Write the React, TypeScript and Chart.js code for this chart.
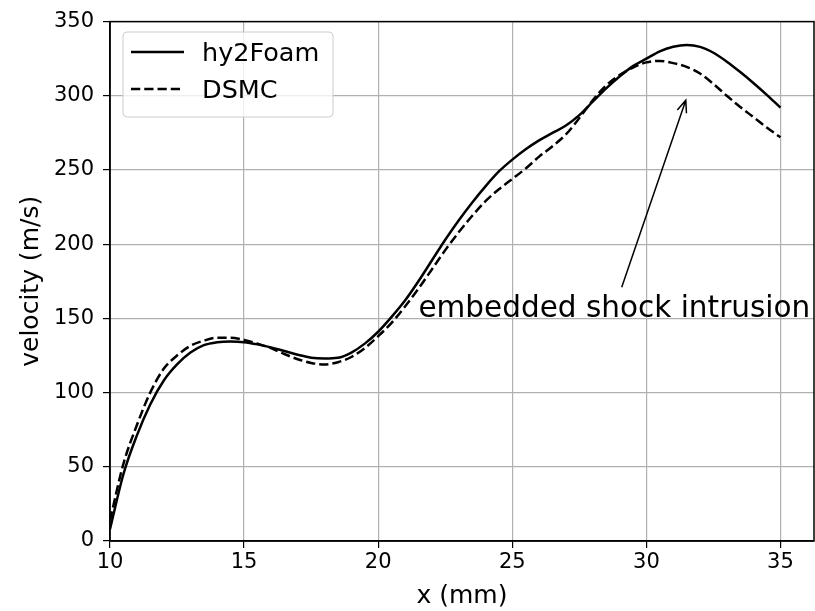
import React, { useEffect, useRef } from "react";
import { Chart, registerables } from "chart.js";

Chart.register(...registerables);

// ---- data ----
const X_MM = [
  10, 10.5, 11, 11.5, 12, 12.5, 13, 13.5, 14, 14.5, 15, 15.5, 16, 16.5, 17, 17.5, 18, 18.5, 19, 19.5,
  20, 20.5, 21, 21.5, 22, 22.5, 23, 23.5, 24, 24.5, 25, 25.5, 26, 26.5, 27, 27.5, 28, 28.5, 29, 29.5,
  30, 30.5, 31, 31.5, 32, 32.5, 33, 33.5, 34, 34.5, 35,
];
const HY2FOAM = [
  8, 45, 71, 92, 108, 119, 127, 132, 134, 134.5, 134, 132.5, 130.5, 128, 125.5, 123.5, 123, 123.5, 127, 133,
  141, 151, 162, 175, 189, 203, 216, 228, 239, 249, 257, 264, 270, 275, 280, 287, 296, 305, 313, 320,
  325, 330, 333, 334.2, 333, 329, 323, 316, 308.5, 300.5, 292,
];
const DSMC = [
  14, 52, 78, 100, 116, 125, 131.5, 135, 137, 137, 135.5, 133, 130, 126, 122.5, 120, 119, 120.5, 124, 130,
  138, 147, 158, 170, 183, 196, 208, 219, 229, 237, 244, 251, 259, 266, 274, 285, 297, 307, 314, 319,
  322.5, 323.5, 322, 319.5, 315, 308, 300, 292.5, 285.5, 278.5, 272,
];
const SERIES_LABELS = ["hy2Foam", "DSMC"];
const X_TICKS = [10, 15, 20, 25, 30, 35];
const Y_TICKS = [0, 50, 100, 150, 200, 250, 300, 350];
const X_TITLE = "x (mm)";
const Y_TITLE = "velocity (m/s)";
const ANNOTATION_TEXT = "embedded shock intrusion";
const ANN_TEXT_AT = [21.5, 151];
const ANN_ARROW_FROM = [29.08, 171];
const ANN_ARROW_TO = [31.47, 297];

const FONT = '"DejaVu Sans", sans-serif';
const DASH = [9.25, 4];

const overlayPlugin = {
  id: "overlay",
  afterDatasetsDraw(chart: any) {
    const { ctx, chartArea: a, scales } = chart;
    const xs = scales.x;
    const ys = scales.y;
    ctx.save();
    // frame
    ctx.strokeStyle = "#000";
    ctx.lineWidth = 1.5;
    ctx.setLineDash([]);
    ctx.strokeRect(a.left, a.top, a.right - a.left, a.bottom - a.top);

    // annotation text
    ctx.font = `29.5px ${FONT}`;
    ctx.fillStyle = "#000";
    ctx.textAlign = "left";
    ctx.textBaseline = "alphabetic";
    ctx.fillText(ANNOTATION_TEXT, xs.getPixelForValue(ANN_TEXT_AT[0]), ys.getPixelForValue(ANN_TEXT_AT[1]));

    // arrow
    const x0 = xs.getPixelForValue(ANN_ARROW_FROM[0]);
    const y0 = ys.getPixelForValue(ANN_ARROW_FROM[1]);
    const x1 = xs.getPixelForValue(ANN_ARROW_TO[0]);
    const y1 = ys.getPixelForValue(ANN_ARROW_TO[1]);
    ctx.lineWidth = 1.5;
    ctx.beginPath();
    ctx.moveTo(x0, y0);
    ctx.lineTo(x1, y1);
    const ang = Math.atan2(y1 - y0, x1 - x0);
    const hl = 13;
    const hw = 0.38;
    ctx.moveTo(x1 - hl * Math.cos(ang - hw), y1 - hl * Math.sin(ang - hw));
    ctx.lineTo(x1, y1);
    ctx.lineTo(x1 - hl * Math.cos(ang + hw), y1 - hl * Math.sin(ang + hw));
    ctx.stroke();

    // legend
    const lx = 123, ly = 32, lw = 210, lh = 85, r = 4;
    ctx.beginPath();
    ctx.moveTo(lx + r, ly);
    ctx.lineTo(lx + lw - r, ly);
    ctx.quadraticCurveTo(lx + lw, ly, lx + lw, ly + r);
    ctx.lineTo(lx + lw, ly + lh - r);
    ctx.quadraticCurveTo(lx + lw, ly + lh, lx + lw - r, ly + lh);
    ctx.lineTo(lx + r, ly + lh);
    ctx.quadraticCurveTo(lx, ly + lh, lx, ly + lh - r);
    ctx.lineTo(lx, ly + r);
    ctx.quadraticCurveTo(lx, ly, lx + r, ly);
    ctx.closePath();
    ctx.fillStyle = "rgba(255,255,255,0.8)";
    ctx.fill();
    ctx.strokeStyle = "#cccccc";
    ctx.lineWidth = 1;
    ctx.stroke();

    const rows = [
      { y: 52, dash: [] as number[] },
      { y: 89, dash: DASH },
    ];
    ctx.font = `25.5px ${FONT}`;
    ctx.textBaseline = "middle";
    ctx.fillStyle = "#000";
    rows.forEach((row, i) => {
      ctx.strokeStyle = "#000";
      ctx.lineWidth = 2.5;
      ctx.setLineDash(row.dash);
      ctx.beginPath();
      ctx.moveTo(131, row.y);
      ctx.lineTo(184, row.y);
      ctx.stroke();
      ctx.setLineDash([]);
      ctx.fillText(chart.data.datasets[i].label, 202, row.y + 2);
    });
    ctx.restore();
  },
};

export default function App() {
  const ref = useRef<HTMLCanvasElement | null>(null);
  useEffect(() => {
    if (!ref.current) return;
    const chart = new Chart(ref.current, {
      type: "line",
      data: {
        datasets: [
          {
            label: SERIES_LABELS[0],
            data: X_MM.map((x, i) => ({ x, y: HY2FOAM[i] })),
            borderColor: "#000",
            borderWidth: 2.5,
            pointRadius: 0,
            fill: false,
            cubicInterpolationMode: "monotone",
          },
          {
            label: SERIES_LABELS[1],
            data: X_MM.map((x, i) => ({ x, y: DSMC[i] })),
            borderColor: "#000",
            borderWidth: 2.5,
            borderDash: DASH,
            pointRadius: 0,
            fill: false,
            cubicInterpolationMode: "monotone",
          },
        ],
      },
      options: {
        animation: false,
        responsive: false,
        devicePixelRatio: 1,
        layout: { padding: { left: 0, top: 19, right: 1, bottom: 0 } },
        plugins: { legend: { display: false }, tooltip: { enabled: false } },
        scales: {
          x: {
            type: "linear",
            min: 10,
            max: 36.25,
            afterBuildTicks: (s: any) => {
              s.ticks = X_TICKS.map((v) => ({ value: v }));
            },
            afterFit: (s: any) => {
              s.height = 70;
            },
            ticks: { color: "#000", font: { family: FONT, size: 21 }, padding: 2, maxRotation: 0, autoSkip: false },
            grid: { color: "#b0b0b0", lineWidth: 1.2, tickColor: "#000", tickLength: 7, tickWidth: 1.2 },
            border: { display: true, color: "#000", width: 1.5 },
            title: { display: true, text: X_TITLE, color: "#000", font: { family: FONT, size: 25 }, padding: { top: 1, bottom: 0 } },
          },
          y: {
            type: "linear",
            min: 0,
            max: 350,
            afterBuildTicks: (s: any) => {
              s.ticks = Y_TICKS.map((v) => ({ value: v }));
            },
            afterFit: (s: any) => {
              s.width = 110;
            },
            ticks: { color: "#000", font: { family: FONT, size: 21 }, padding: 9 },
            grid: { color: "#b0b0b0", lineWidth: 1.2, tickColor: "#000", tickLength: 7, tickWidth: 1.2 },
            border: { display: true, color: "#000", width: 1.5 },
            title: { display: true, text: Y_TITLE, color: "#000", font: { family: FONT, size: 25 }, padding: { top: 16, bottom: 0 } },
          },
        },
      },
      plugins: [overlayPlugin],
    } as any);
    return () => chart.destroy();
  }, []);
  return (
    <div style={{ position: "absolute", left: 0, top: 0, width: 815, height: 611, background: "#fff" }}>
      <canvas ref={ref} width={815} height={611} style={{ width: 815, height: 611, display: "block" }} />
    </div>
  );
}
